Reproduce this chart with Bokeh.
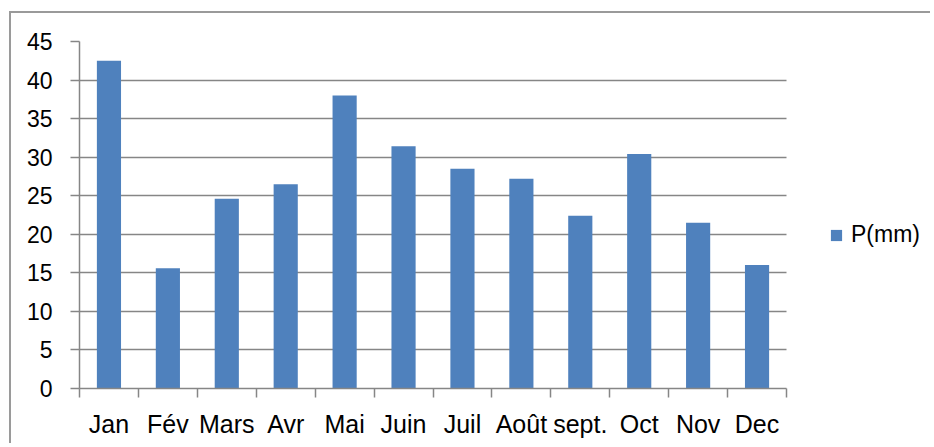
from bokeh.plotting import figure
from bokeh.models import (Range1d, FixedTicker, CustomJSTickFormatter, Legend, LegendItem, LinearAxis)
from bokeh.embed import file_html
from bokeh.resources import INLINE

months = ["Jan", "Fév", "Mars", "Avr", "Mai", "Juin", "Juil", "Août", "sept.", "Oct", "Nov", "Dec"]
precip = [42.5, 15.6, 24.6, 26.5, 38.0, 31.4, 28.5, 27.2, 22.4, 30.4, 21.5, 16.0]
y_ticks = [0, 5, 10, 15, 20, 25, 30, 35, 40, 45]
series_name = "P(mm)"

BAR = "#4F81BD"
GRID = "#868686"
FONT = "Liberation Sans"

n = len(months)
centers = [i + 0.5 for i in range(n)]
bounds = list(range(n + 1))

# layout: chart area 707 px wide for the 12 months; the frame extends right to hold the legend
W, H = 921, 432
ML, MR, MT, MB = 68, 6, 28, 57
frame_w = W - ML - MR
x_end = n * frame_w / 707.0

p = figure(width=W, height=H, output_backend="svg", toolbar_location=None,
           x_range=Range1d(0, x_end), y_range=Range1d(0, 45),
           min_border_left=ML, min_border_right=MR, min_border_top=MT, min_border_bottom=MB,
           x_axis_location=None, y_axis_location=None)
p.outline_line_color = None
p.background_fill_color = "white"
p.border_fill_color = "white"
p.styles = {"border-top": "2px solid #9a9a9a", "border-left": "2px solid #9a9a9a",
            "margin-left": "9px", "margin-top": "11px"}

r = p.vbar(x=centers, top=precip, width=0.41, fill_color=BAR, line_color=None)

# y axis
yax = LinearAxis(ticker=FixedTicker(ticks=y_ticks, minor_ticks=[]))
yax.axis_line_color = GRID
yax.axis_line_width = 1.5
yax.major_tick_line_color = GRID
yax.major_tick_line_width = 1.5
yax.major_tick_out = 9
yax.major_tick_in = 0
yax.minor_tick_line_color = None
yax.major_label_text_font = FONT
yax.major_label_text_font_size = "23px"
yax.major_label_text_color = "black"
yax.major_label_standoff = 18
p.add_layout(yax, "left")

# x axis
xax = LinearAxis(ticker=FixedTicker(ticks=centers, minor_ticks=bounds), bounds=(0, n))
xax.formatter = CustomJSTickFormatter(args=dict(names=months),
                                      code="const i = Math.round(tick - 0.5); return (i >= 0 && i < names.length) ? names[i] : '';")
xax.axis_line_color = GRID
xax.axis_line_width = 1.5
xax.major_tick_line_color = None
xax.major_tick_out = 0
xax.major_tick_in = 0
xax.minor_tick_line_color = GRID
xax.minor_tick_line_width = 1.5
xax.minor_tick_out = 9
xax.minor_tick_in = 0
xax.major_label_text_font = FONT
xax.major_label_text_font_size = "25px"
xax.major_label_text_color = "black"
xax.major_label_standoff = 12
p.add_layout(xax, "below")

p.ygrid.ticker = FixedTicker(ticks=y_ticks)
p.ygrid.grid_line_color = GRID
p.ygrid.grid_line_width = 1.5
p.ygrid.cross_bounds = (0, n)
p.xgrid.grid_line_color = None

legend = Legend(items=[LegendItem(label=series_name, renderers=[r])],
                location=(750, 140), orientation="vertical")
legend.border_line_color = None
legend.background_fill_alpha = 0
legend.padding = 0
legend.margin = 0
legend.glyph_width = 14
legend.glyph_height = 14
legend.label_standoff = 8
legend.label_text_font = FONT
legend.label_text_font_size = "23px"
legend.label_text_color = "black"
p.add_layout(legend, "center")

open("out.html", "w").write(file_html(p, INLINE))
